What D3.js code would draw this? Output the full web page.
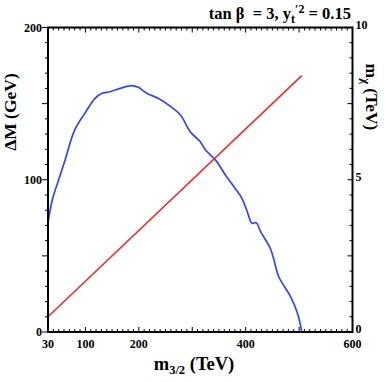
<!DOCTYPE html>
<html><head><meta charset="utf-8">
<script src="https://cdn.jsdelivr.net/npm/d3@7"></script>
<style>body{margin:0;background:#fff}svg{display:block}text{font-family:"Liberation Serif","Times New Roman",serif;font-weight:bold;fill:#000}</style>
</head><body><svg id="c" width="390" height="382"></svg>
<script>
const mGrav = [30, 38, 50, 62, 80, 99, 118, 131, 146, 165, 187, 199, 215, 237, 256, 278, 296, 315, 325, 346, 362, 378, 393, 403, 412, 420, 428, 446, 453, 462, 484, 497, 505];
const deltaM = [71.6, 86.7, 100, 113, 132.7, 143.6, 153.5, 156.8, 157.8, 160, 161.8, 160.7, 156.8, 153.4, 149, 142.5, 131.6, 125, 119.5, 111.9, 103.1, 95.4, 87.8, 79, 71.4, 71.8, 65.9, 55, 47.3, 36.3, 23.2, 12.3, 0];
const mGravRed = [30, 505];
const mChi = [0.5, 8.42];
const xTickLabels = [30, 100, 200, 400, 600];
const yLeftLabels = [0, 100, 200];
const yRightLabels = [0, 5, 10];

const svg = d3.select("#c");
const L = 48, R = 352.5, T = 27.5, B = 332;
const x = d3.scaleLinear().domain([30, 600]).range([L, R]);
const yL = d3.scaleLinear().domain([0, 200]).range([B, T]);
const yR = d3.scaleLinear().domain([0, 10]).range([B, T]);

// curves
const blue = mGrav.map((m, i) => [m, deltaM[i]]);
svg.append("path").datum(blue)
  .attr("d", d3.line().x(d => x(d[0])).y(d => yL(d[1])).curve(d3.curveCatmullRom.alpha(0.5)))
  .attr("fill", "none").attr("stroke", "#3344ff").attr("stroke-width", 1.7);
const red = mGravRed.map((m, i) => [m, mChi[i]]);
svg.append("path").datum(red)
  .attr("d", d3.line().x(d => x(d[0])).y(d => yR(d[1])))
  .attr("fill", "none").attr("stroke", "#ff2020").attr("stroke-width", 1.5);

// axes
const xMinor = d3.range(30, 601, 10);
const isMajX = v => v % 100 === 0;
const gB = svg.append("g").attr("transform", `translate(0,${B})`);
gB.selectAll("line.t").data(xMinor).enter().append("line")
  .attr("x1", d => x(d)).attr("x2", d => x(d)).attr("y1", 0).attr("y2", d => isMajX(d) ? -5 : -3)
  .attr("stroke", "#000").attr("stroke-width", 1);
gB.selectAll("text").data(xTickLabels).enter().append("text")
  .attr("x", d => x(d)).attr("y", 16).attr("text-anchor", "middle").attr("font-size", 12).text(d => d);
const gT = svg.append("g").attr("transform", `translate(0,${T})`);
gT.selectAll("line").data(xMinor).enter().append("line")
  .attr("x1", d => x(d)).attr("x2", d => x(d)).attr("y1", 0).attr("y2", d => isMajX(d) ? 5 : 3)
  .attr("stroke", "#000").attr("stroke-width", 1);

const yMinor = d3.range(0, 201, 10);
const gLft = svg.append("g").attr("transform", `translate(${L},0)`);
gLft.selectAll("line").data(yMinor).enter().append("line")
  .attr("y1", d => yL(d)).attr("y2", d => yL(d)).attr("x1", 0).attr("x2", d => d % 50 === 0 ? -6 : -3)
  .attr("stroke", "#000").attr("stroke-width", 1);
gLft.selectAll("text").data(yLeftLabels).enter().append("text")
  .attr("x", -6).attr("y", d => yL(d) + 4).attr("text-anchor", "end").attr("font-size", 12).text(d => d);

const rMinor = d3.range(0, 10.01, 0.5);
const gRt = svg.append("g").attr("transform", `translate(${R},0)`);
gRt.selectAll("line").data(rMinor).enter().append("line")
  .attr("y1", d => yR(d)).attr("y2", d => yR(d)).attr("x1", 0).attr("x2", d => Math.abs(d / 2.5 - Math.round(d / 2.5)) < 1e-6 ? -5 : -3)
  .attr("stroke", "#000").attr("stroke-width", 1);
gRt.selectAll("text").data(yRightLabels).enter().append("text")
  .attr("x", 3).attr("y", d => yR(d) + 1).attr("text-anchor", "start").attr("font-size", 12).text(d => d);

// frame
svg.append("rect").attr("x", L).attr("y", T).attr("width", R - L).attr("height", B - T)
  .attr("fill", "none").attr("stroke", "#000").attr("stroke-width", 2);

// titles
const tt = svg.append("text").attr("x", 351).attr("y", 19).attr("text-anchor", "end").attr("font-size", 16.5);
tt.append("tspan").text("tan β\u00A0\u00A0= 3, y");
tt.append("tspan").attr("font-size", 12).attr("dy", 4).text("t");
tt.append("tspan").attr("font-size", 12).attr("dy", -10).text("′2");
tt.append("tspan").attr("dy", 6).text(" = 0.15");

const xt = svg.append("text").attr("x", 194).attr("y", 370).attr("text-anchor", "middle").attr("font-size", 18.5);
xt.append("tspan").text("m");
xt.append("tspan").attr("font-size", 12.5).attr("dy", 4).text("3/2");
xt.append("tspan").attr("dy", -4).text(" (TeV)");

svg.append("text").attr("transform", "translate(16,112) rotate(-90)").attr("text-anchor", "middle")
  .attr("font-size", 17.5).text("ΔM (GeV)");

const rt = svg.append("text").attr("transform", "translate(366,97) rotate(90)").attr("text-anchor", "middle").attr("font-size", 17.5);
rt.append("tspan").text("m");
rt.append("tspan").attr("font-size", 12.5).attr("dy", 4).text("χ");
rt.append("tspan").attr("dy", -4).text(" (TeV)");
</script></body></html>
